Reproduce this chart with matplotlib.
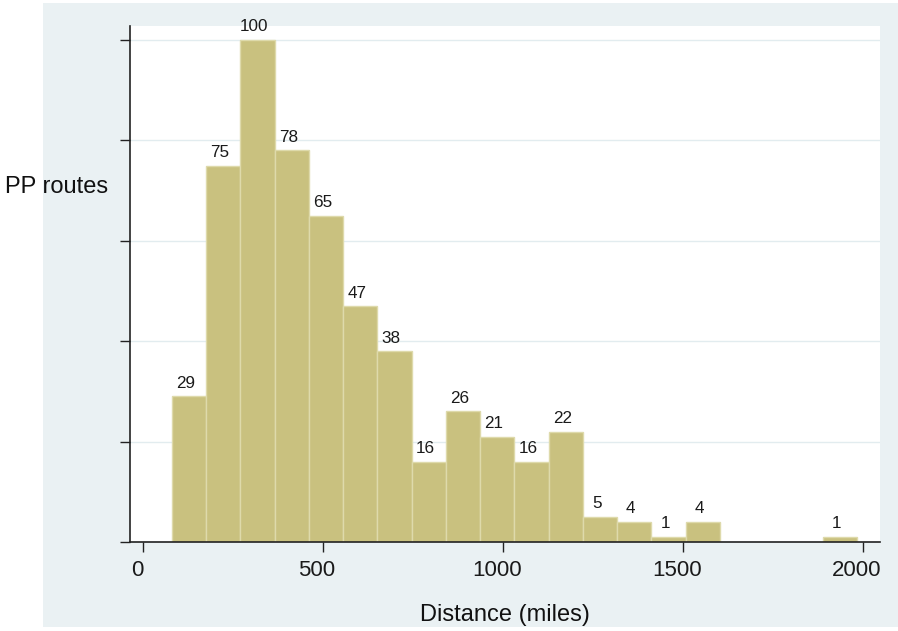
"""
Histogram of PP route distances (Stata-style look)
"""

import numpy as np
import matplotlib.pyplot as plt
import matplotlib.transforms as mtransforms
from matplotlib.patches import Rectangle

plt.rcParams['font.family'] = ['Liberation Sans', 'DejaVu Sans']

# %% Data
counts = [29, 75, 100, 78, 65, 47, 38, 16, 26, 21, 16, 22, 5, 4, 1, 4, 0, 0, 0, 1]
dist_min = 80      # left edge of first bin (miles)
dist_max = 1983    # right edge of last bin (miles)
x_ticks = [0, 500, 1000, 1500, 2000]
y_ticks = [0, 20, 40, 60, 80, 100]

edges = np.linspace(dist_min, dist_max, len(counts) + 1)
width = edges[1] - edges[0]

# %% Plot
panel_col = '#EAF1F3'
bar_col = '#C9C17F'
edge_col = '#DEDAAB'

fig = plt.figure(figsize=(8.98, 6.31), dpi=100)
fig.patch.set_facecolor('white')
# light panel behind the graph
fig.patches.append(Rectangle((43 / 898, 4 / 631), 1 - 43 / 898, 1 - 7 / 631,
                             transform=fig.transFigure, facecolor=panel_col,
                             edgecolor='none', zorder=-10))

ax = fig.add_axes([130 / 898, 89 / 631, 750 / 898, 516 / 631])
ax.set_facecolor('white')

for i, c in enumerate(counts):
    if c == 0:
        continue
    ax.bar(edges[i], c, width=width, align='edge', color=bar_col,
           edgecolor=edge_col, linewidth=1, zorder=2)
    ax.annotate(str(c), (edges[i] + width / 2, c), xytext=(-2.5, 4),
                textcoords='offset points', ha='center', va='bottom',
                fontsize=12.3, color='#1a1a1a', zorder=3)

ax.set_xlim(-36, 2047)
ax.set_ylim(0, 102.8)

ax.set_yticks(y_ticks)
ax.set_yticklabels([])
ax.yaxis.grid(True, color='#E2ECEF', linewidth=1)
ax.set_axisbelow(True)

ax.set_xticks(x_ticks)
ax.set_xticklabels([str(t) for t in x_ticks], fontsize=16, color='#1a1a1a')
ax.tick_params(axis='both', direction='out', length=7.2, width=1, color='#222222')
ax.tick_params(axis='x', pad=6)

# Stata nudges tick labels a bit left
shift = mtransforms.ScaledTranslation(-6 / 100, 0, fig.dpi_scale_trans)
for lab in ax.get_xticklabels():
    lab.set_transform(lab.get_transform() + shift)

for s in ['top', 'right']:
    ax.spines[s].set_visible(False)
for s in ['left', 'bottom']:
    ax.spines[s].set_linewidth(1.2)
    ax.spines[s].set_color('#222222')

ax.set_xlabel('Distance (miles)', fontsize=17, labelpad=16, color='#111111')
fig.text(5 / 898, 1 - 187 / 631, 'PP routes', fontsize=17, ha='left', va='center',
         color='#111111')

plt.savefig('out.png', dpi=100)
